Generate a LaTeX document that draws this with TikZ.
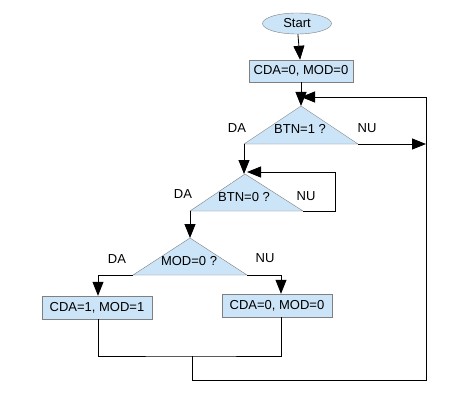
\documentclass[tikz,border=0pt]{standalone}
\usepackage{fontspec}
\setmainfont{Liberation Sans}
\usetikzlibrary{arrows.meta,positioning,calc,shapes.geometric}
\definecolor{boxfill}{RGB}{204,228,247}
\definecolor{boxline}{RGB}{128,128,128}

\begin{document}
\begin{tikzpicture}[x=1pt,y=-1pt,
    every node/.style={font=\fontsize{13}{15}\selectfont},
    box/.style={draw=boxline,fill=boxfill,rectangle,minimum width=110pt,minimum height=23pt,inner sep=0pt},
    dec/.style={draw=boxline,fill=boxfill},
    link/.style={line width=0.8pt},
    arr/.style={link,-{Triangle[length=14pt,width=11pt]}}]
      \useasboundingbox[fill=white] (0,0) rectangle (473,401);

      \node[draw=boxline,fill=boxfill,ellipse,minimum width=69pt,minimum height=21pt,inner sep=0pt] (start) at (297,23.5) {Start};
      \node[box,minimum width=104pt,minimum height=22pt] (init) at (301,71) {CDA=0, MOD=0};

      % BTN=1 ?
      \coordinate (q1) at (301,106);
      \draw[dec] (q1) -- +(-57,38) coordinate (q1l) -- +(57,38) coordinate (q1r) -- cycle;
      \node (t1) at (300,129) {BTN=1 ?};
      \node (da1) at (237,128) {DA};
      \node (nu1) at (367,128) {NU};

      % BTN=0 ?
      \coordinate (q2) at (245,174);
      \draw[dec] (q2) -- +(-55,37) coordinate (q2l) -- +(58,37) coordinate (q2r) -- cycle;
      \node (t2) at (244,197) {BTN=0 ?};
      \node (da2) at (183,194) {DA};
      \node (nu2) at (306,196) {NU};

      % MOD=0 ?
      \coordinate (q3) at (190,238);
      \draw[dec] (q3) -- +(-57,37) coordinate (q3l) -- +(57,37) coordinate (q3r) -- cycle;
      \node (t3) at (189,261) {MOD=0 ?};
      \node (da3) at (117,259) {DA};
      \node (nu3) at (265,258) {NU};

      \node[box] (setl) at (97,307.5) {CDA=1, MOD=1};
      \node[box] (setr) at (277,305.5) {CDA=0, MOD=0};

      \coordinate (j1) at (301,97);
      \coordinate (j2) at (247,172);
      \coordinate (rt) at (426,97);
      \coordinate (rb) at (426,380);
      \coordinate (mid) at (192,356);

      \draw[arr] (start) -- (init);
      \draw[arr] (init) -- (q1);
      \draw[arr] (q1r) -- (q1r -| rt);
      \draw[arr] (q1l) -- (q1l |- q2);
      \draw[arr] (q2r) -- ++(32,0) |- (j2);
      \draw[arr] (q2l) -- (q3);
      \draw[arr] (q3l) -| ([xshift=1pt]setl.north);
      \draw[arr] (q3r) -| ([xshift=4pt]setr.north);

      \draw[link] ([xshift=1pt]setl.south) |- (mid) -| ([xshift=4pt]setr.south);
      \draw[arr] (mid) |- (rb) -- (rt) -- (j1);

    \end{tikzpicture}
\end{document}
